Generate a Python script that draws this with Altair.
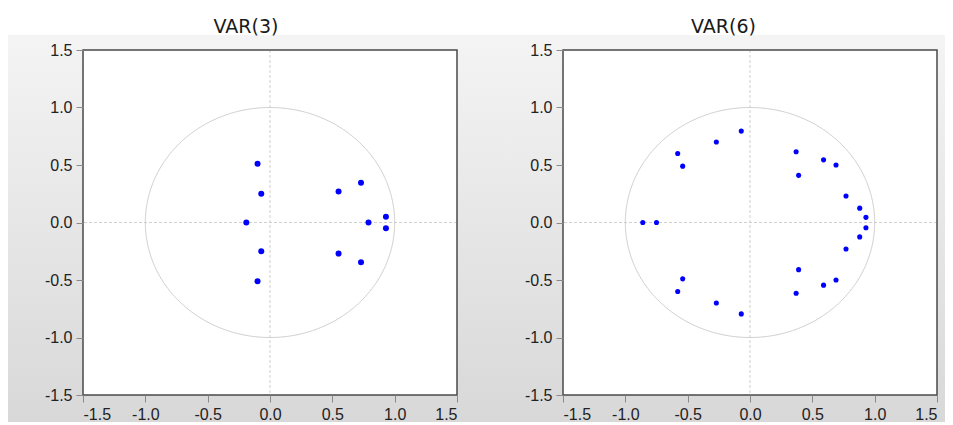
import altair as alt
import numpy as np
import pandas as pd

# Inverse roots of the AR characteristic polynomial (real, imaginary)
var3_re = [-0.10, -0.07, -0.19, -0.07, -0.10, 0.55, 0.73, 0.79, 0.93, 0.93, 0.55, 0.73]
var3_im = [0.51, 0.25, 0.00, -0.25, -0.51, 0.27, 0.345, 0.00, 0.05, -0.05, -0.27, -0.345]

var6_re = [-0.07, -0.27, -0.58, -0.54, -0.86, -0.75, 0.37, 0.59, 0.69, 0.39, 0.77, 0.88,
           0.93, 0.93, 0.88, 0.77, 0.39, 0.69, 0.59, 0.37, -0.54, -0.58, -0.27, -0.07]
var6_im = [0.795, 0.70, 0.60, 0.49, 0.00, 0.00, 0.615, 0.545, 0.50, 0.41, 0.23, 0.125,
           0.045, -0.045, -0.125, -0.23, -0.41, -0.50, -0.545, -0.615, -0.49, -0.60, -0.70, -0.795]

titles = ["VAR(3)", "VAR(6)"]
tick_values = [-1.5, -1.0, -0.5, 0.0, 0.5, 1.0, 1.5]

# unit circle (reference geometry)
theta = np.linspace(0, 2 * np.pi, 361)
circle = pd.DataFrame({"cx": np.cos(theta), "cy": np.sin(theta), "i": np.arange(len(theta))})

label_expr = "datum.value < 0 ? '-' + format(-datum.value, '.1f') : format(datum.value, '.1f')"

grad = alt.Gradient(
    gradient="linear",
    stops=[alt.GradientStop(color="#f4f4f4", offset=0), alt.GradientStop(color="#d8d8d8", offset=1)],
    x1=0, x2=0, y1=0, y2=1,
)

W, H = 374, 345


def make_axis():
    return alt.Axis(values=tick_values, labelExpr=label_expr, domain=False, grid=False,
                    tickSize=7, tickColor="#8a8a8a", tickWidth=1,
                    labelFont="Liberation Sans", labelFontSize=16, labelColor="#222222",
                    labelPadding=4, title=None, zindex=1)


def panel(title, re, im, size, gl, gr, gt, gb, dx):
    xs = alt.Scale(domain=[-1.5, 1.5], nice=False, zero=False)
    ys = alt.Scale(domain=[-1.5, 1.5], nice=False, zero=False)
    ax = make_axis()
    ay = make_axis()
    pts = pd.DataFrame({"re": re, "im": im})

    bg = alt.Chart().mark_rect(fill=grad).encode(
        x=alt.value(-gl), x2=alt.value(W + gr), y=alt.value(-gt), y2=alt.value(H + gb))
    white = alt.Chart().mark_rect(fill="white").encode(
        x=alt.value(0), x2=alt.value(W), y=alt.value(0), y2=alt.value(H))
    vrule = alt.Chart().mark_rule(color="#d0d0d0", strokeDash=[3, 2], strokeWidth=1).encode(
        x=alt.XDatum(0, type="quantitative", scale=xs, axis=ax))
    hrule = alt.Chart().mark_rule(color="#d0d0d0", strokeDash=[3, 2], strokeWidth=1).encode(
        y=alt.YDatum(0, type="quantitative", scale=ys, axis=ay))
    circ = alt.Chart(circle).mark_line(color="#d0d0d0", strokeWidth=1).encode(
        x=alt.X("cx:Q", scale=xs, axis=ax),
        y=alt.Y("cy:Q", scale=ys, axis=ay),
        order="i:Q")
    points = alt.Chart(pts).mark_point(filled=True, size=size, color="#0000ff", opacity=1).encode(
        x=alt.X("re:Q", scale=xs, axis=ax),
        y=alt.Y("im:Q", scale=ys, axis=ay))
    frame = alt.Chart().mark_rect(fillOpacity=0, stroke="#4a4a4a", strokeWidth=1.5).encode(
        x=alt.value(0), x2=alt.value(W), y=alt.value(0), y2=alt.value(H))

    return alt.layer(bg, white, vrule, hrule, circ, points, frame).properties(
        width=W, height=H,
        title=alt.TitleParams(title, font="DejaVu Sans", fontSize=19, fontWeight="normal",
                              color="#1a1a1a", offset=-2, frame="bounds", anchor="middle", dx=dx))


left = panel(titles[0], var3_re, var3_im, 36, 75, 23, 15, 27, 2)
right = panel(titles[1], var6_re, var6_im, 26, 83, 8, 15, 27, 11)

chart = alt.hconcat(left, right, spacing=0).properties(
    padding={"left": 0, "top": 10, "right": 0, "bottom": 0},
    background="white",
).configure_view(strokeWidth=0)

chart.save("out.html", embed_options={"renderer": "svg", "actions": False})
